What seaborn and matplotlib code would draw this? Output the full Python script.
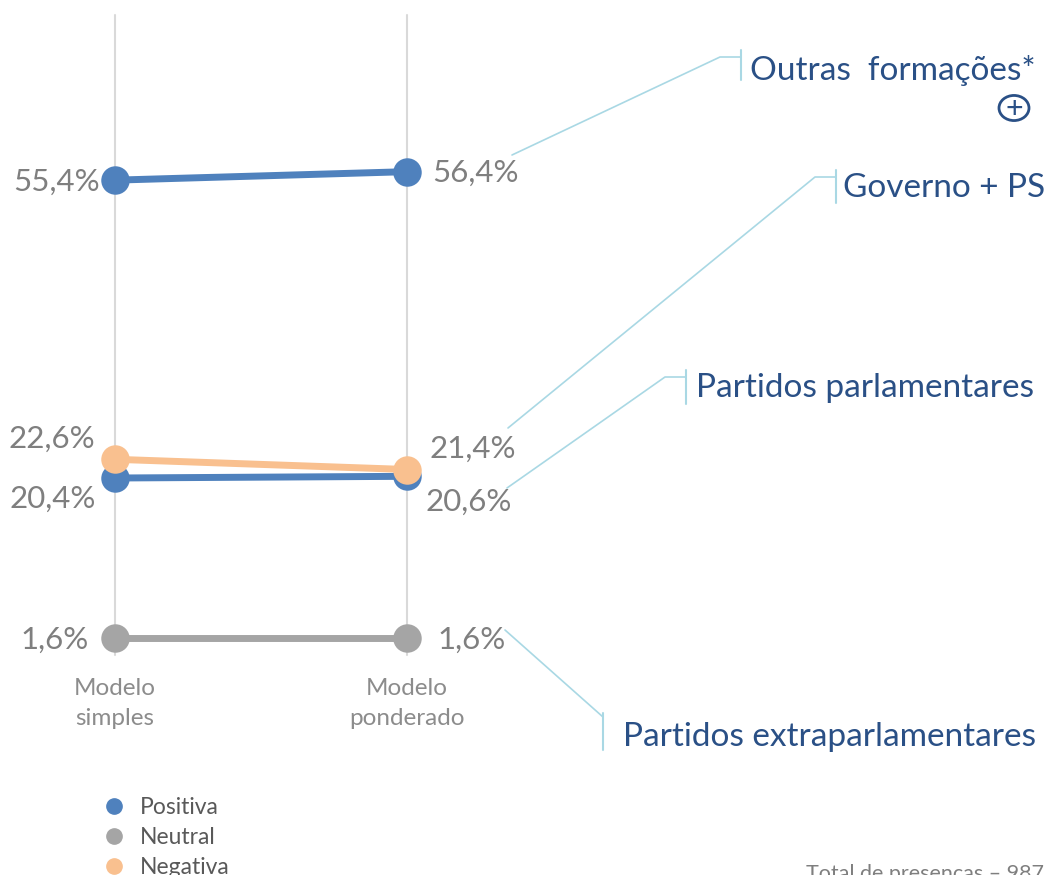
import pandas as pd
import matplotlib.pyplot as plt
import seaborn as sns
from matplotlib.lines import Line2D
from matplotlib.patches import Circle

# data
modelos = ['Modelo\nsimples', 'Modelo\nponderado']
outras_pos = [55.4, 56.4]
governo_neg = [22.6, 21.4]
parlam_pos = [20.4, 20.6]
extra_neu = [1.6, 1.6]

series = {
    'outras': (outras_pos, '#4f81bd'),
    'extra': (extra_neu, '#a5a5a5'),
    'parlam': (parlam_pos, '#4f81bd'),
    'governo': (governo_neg, '#f9c08f'),
}

rows = []
for name, (vals, col) in series.items():
    for i, v in enumerate(vals):
        rows.append({'serie': name, 'x': i, 'valor': v})
df = pd.DataFrame(rows)

W, H = 1046, 875
sns.set_style('white')
plt.rcParams['font.family'] = ['Lato', 'DejaVu Sans']

fig = plt.figure(figsize=(W / 100, H / 100), dpi=100)
ax = fig.add_axes([0, 0, 1, 1])
ax.set_xlim(-115 / 292, (W - 115) / 292)
ax.set_ylim(1.6 - (H - 638) / 8.51, 1.6 + 638 / 8.51)
ax.axis('off')

def fx(px):
    return px / W

def fy(py):
    return 1 - py / H

# vertical gridlines for the two models
for i in range(len(modelos)):
    ax.plot([i, i], [1.6 - 17 / 8.51, 1.6 + 623 / 8.51], color='#d9d9d9', lw=1.5, zorder=1)

palette = {k: c for k, (v, c) in series.items()}
sns.lineplot(data=df, x='x', y='valor', hue='serie', palette=palette,
             hue_order=list(series.keys()), marker='o', markersize=20.5,
             markeredgewidth=0, linewidth=5, legend=False, ax=ax, zorder=3)

# value labels
grey = '#7f7f7f'
lbl = dict(color=grey, fontsize=22.5)
ax.annotate('55,4%', (0, outras_pos[0]), xytext=(-11, -1), textcoords='offset points', ha='right', va='center', **lbl)
ax.annotate('22,6%', (0, governo_neg[0]), xytext=(-14, 15), textcoords='offset points', ha='right', va='center', **lbl)
ax.annotate('20,4%', (0, parlam_pos[0]), xytext=(-14, -15), textcoords='offset points', ha='right', va='center', **lbl)
ax.annotate('1,6%', (0, extra_neu[0]), xytext=(-19, -1), textcoords='offset points', ha='right', va='center', **lbl)
ax.annotate('56,4%', (1, outras_pos[1]), xytext=(18, -1), textcoords='offset points', ha='left', va='center', **lbl)
ax.annotate('21,4%', (1, governo_neg[1]), xytext=(16, 15), textcoords='offset points', ha='left', va='center', **lbl)
ax.annotate('20,6%', (1, parlam_pos[1]), xytext=(13, -18), textcoords='offset points', ha='left', va='center', **lbl)
ax.annotate('1,6%', (1, extra_neu[1]), xytext=(22, -1), textcoords='offset points', ha='left', va='center', **lbl)

for i, m in enumerate(modelos):
    ax.annotate(m, (i, extra_neu[i]), xytext=(0, -29), textcoords='offset points',
                ha='center', va='top', color='#8c8c8c', fontsize=17.5, linespacing=1.5)

# callouts
blue_txt = '#2a5086'
cl = '#a9d8e4'
callouts = [
    ('Outras  formações*', [(512, 155), (720, 57), (741, 57)], (741, 50, 80), (750, 70)),
    ('Governo + PS', [(508, 428), (815, 177), (836, 177)], (836, 170, 203), (843, 188)),
    ('Partidos parlamentares', [(507, 488), (665, 377), (686, 377)], (686, 370, 404), (696, 388)),
    ('Partidos extraparlamentares', [(505, 630), (603, 717)], (603, 713, 750), (623, 737)),
]
for txt, pts, tick, tpos in callouts:
    fig.add_artist(Line2D([fx(p[0]) for p in pts], [fy(p[1]) for p in pts], color=cl, lw=1.2))
    fig.add_artist(Line2D([fx(tick[0])] * 2, [fy(tick[1]), fy(tick[2])], color=cl, lw=1.5))
    fig.text(fx(tpos[0]), fy(tpos[1]), txt, color=blue_txt, fontsize=24, ha='left', va='center')

# plus icon
fig.add_artist(Circle((fx(1014), fy(108)), 15 / W, transform=fig.transFigure,
                      fill=False, ec=blue_txt, lw=2))
fig.text(fx(1014), fy(109), '+', color=blue_txt, fontsize=22, ha='center', va='center')

# legend
handles = [Line2D([], [], ls='none', marker='o', markersize=11, color=c)
           for c in ['#4f81bd', '#a5a5a5', '#f9c08f']]
fig.legend(handles, ['Positiva', 'Neutral', 'Negativa'], loc='upper left',
           bbox_to_anchor=(fx(80), fy(776)), frameon=False, fontsize=16.5,
           labelcolor='#595959', handletextpad=0.5, labelspacing=0.4, handlelength=1.2)

fig.text(fx(806), fy(884), 'Total de presenças – 987', color=grey, fontsize=15.5, ha='left', va='bottom')

fig.savefig('out.png', dpi=100)
